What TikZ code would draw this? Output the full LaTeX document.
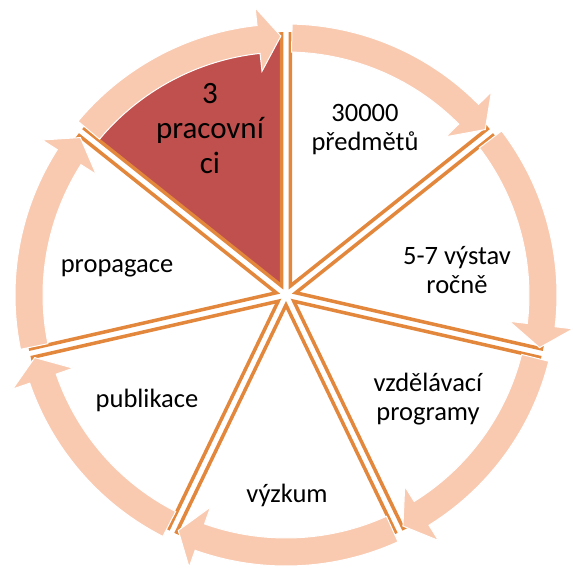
\documentclass[tikz,border=0pt]{standalone}
\usepackage{fontspec}
\setmainfont{Carlito}
\usepackage{tikz}
\usetikzlibrary{calc}
\usepackage{xcolor}
\definecolor{dforange}{RGB}{226,135,60}
\definecolor{dfpeach}{RGB}{249,201,176}
\definecolor{dfred}{RGB}{192,80,77}
\tikzstyle{cycleseg} = [draw=dforange, fill=white, line width=3.5]
\tikzstyle{redseg} = [cycleseg, fill=dfred]
\tikzstyle{ringarrow} = [draw=white, fill=dfpeach, line width=1]
\tikzstyle{seglabel} = [align=center, text=black, font=\fontsize{26.5}{29}\selectfont]
% one wedge of the cycle, #2 = its upper angle
\newcommand{\cycleseg}[2]{\draw[#1, shift={(#2-25.714:10)}] (0,0) -- (#2-51.429:252) arc[start angle=#2-51.429, end angle=#2, radius=252] -- cycle;}
% curved arrow over a wedge, clockwise
\newcommand{\cyclearrow}[1]{\draw[ringarrow] (#1-1.3:271) arc[start angle=#1-1.3, end angle=#1-45.3, radius=271] -- (#1-45.3:289) -- (#1-50.3:259) -- (#1-45.3:225) -- (#1-45.3:243) arc[start angle=#1-45.3, end angle=#1-1.3, radius=243] -- cycle;}

\begin{document}
\begin{tikzpicture}[x=1pt, y=1pt]
\useasboundingbox (-286,-279) rectangle (287,295);

% wedges
\cycleseg{redseg}{141.429}
\cycleseg{cycleseg}{90}
\cycleseg{cycleseg}{38.571}
\cycleseg{cycleseg}{-12.857}
\cycleseg{cycleseg}{-64.286}
\cycleseg{cycleseg}{-115.714}
\cycleseg{cycleseg}{-167.143}

% arrows round the ring
\cyclearrow{141.429}
\cyclearrow{90}
\cyclearrow{38.571}
\cyclearrow{-12.857}
\cyclearrow{-64.286}
\cyclearrow{-115.714}
\cyclearrow{-167.143}

% texts
\node (staff) [seglabel, font=\fontsize{31}{35}\selectfont] at (-76,166) {3\\pracovní\\ci};
\node (items) [seglabel] at (79,165) {30000\\předmětů};
\node (shows) [seglabel] at (171,25) {5-7 výstav\\ročně};
\node (edu) [seglabel] at (142,-104) {vzdělávací\\programy};
\node (research) [seglabel] at (1,-200) {výzkum};
\node (pubs) [seglabel] at (-139,-105) {publikace};
\node (promo) [seglabel] at (-169,27) {propagace};
\end{tikzpicture}
\end{document}
